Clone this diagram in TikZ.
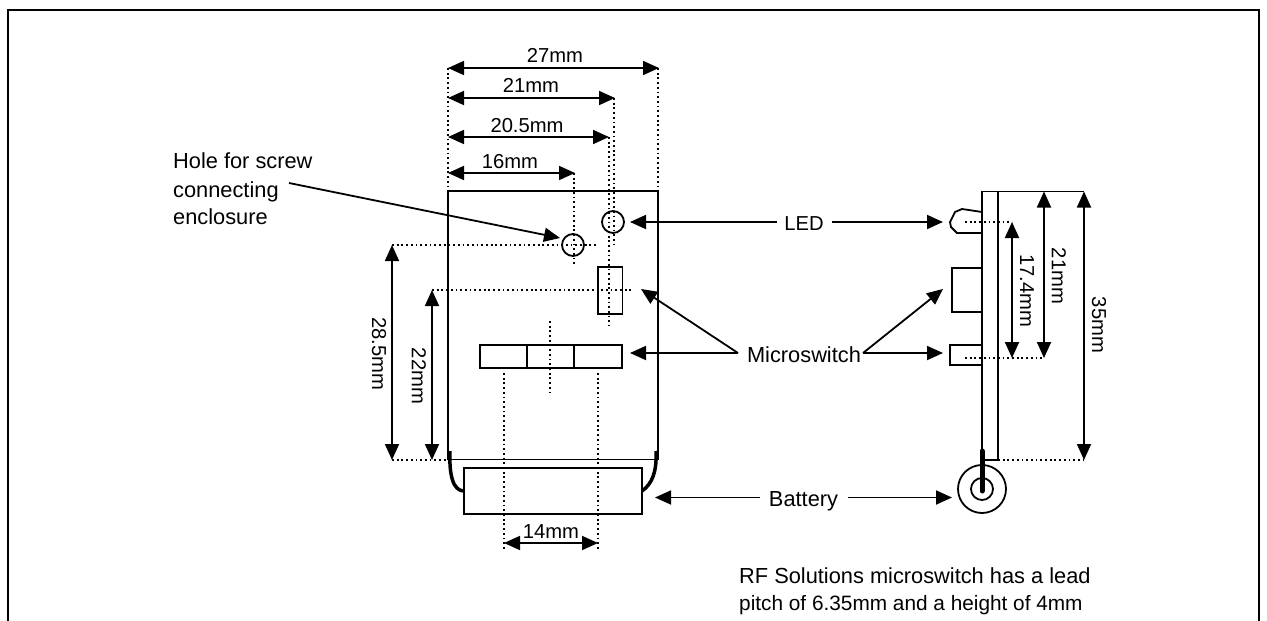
\documentclass[tikz,border=0pt]{standalone}
\usepackage{fontspec}
\setmainfont{Liberation Sans}
\usetikzlibrary{arrows.meta}
\tikzset{
  line/.style={line width=1.8pt},
  dots/.style={line width=1.7pt, dash pattern=on 1.8pt off 2.9pt},
  dim/.style={line width=1.8pt, {Triangle[length=16pt,width=14pt]}-{Triangle[length=16pt,width=14pt]}},
  lead/.style={line width=1.8pt, -{Triangle[length=16pt,width=14pt]}},
  label/.style={inner sep=0pt, font=\fontsize{20.2}{27}\selectfont},
  biglabel/.style={inner sep=0pt, font=\fontsize{21.8}{27}\selectfont},
}
\begin{document}
\begin{tikzpicture}[x=1pt,y=-1pt]
\useasboundingbox (0,0) rectangle (1267,621);
% frame
\draw [line] (8,621) -- (8,10) -- (1259,10) -- (1259,621);
% front view
\draw [line] (448,460) -- (448,191) -- (658,191) -- (658,460);
\draw [line] (450,459.5) -- (656,459.5);
\draw [line] (464,468) rectangle (642,514);
\draw [line] (480,345) rectangle (622,368);
\draw [line] (527,345) -- (527,368);
\draw [line] (574,345) -- (574,368);
\draw [line] (598,267) rectangle (622.5,314);
\draw [line] (613,222) circle (11);
\draw [line] (573,245) circle (11);
\draw [line width=3.5pt] (450,451) .. controls (449,475) and (453,491) .. (464,491);
\draw [line width=3.5pt] (656,451) .. controls (657,472) and (652,484) .. (642,491);
% side view
\draw [line] (982,450) -- (982,191.5) -- (1084,191.5);
\draw [line] (998,191.5) -- (998,460) -- (984,460);
\draw [line] (982,212) -- (962,209) -- (955,212) -- (950,222) -- (951,227) -- (957,233) -- (982,233);
\draw [line] (982,268) -- (952,268) -- (952,312) -- (982,312);
\draw [line] (982,345) -- (950,345) -- (950,365) -- (982,365);
\draw [line] (982,489) circle (24);
\draw [line] (982,489) circle (11);
\draw [line width=5pt, line cap=round] (982,451) -- (982,491);
% projection lines
\draw [dots] (448,68) -- (448,191);
\draw [dots] (658,68) -- (658,191);
\draw [dots] (614,98) -- (614,245);
\draw [dots] (609,137) -- (609,326);
\draw [dots] (574,173) -- (574,266);
\draw [dots] (392,245) -- (598,245);
\draw [dots] (432,290) -- (633,290);
\draw [dots] (392,460) -- (448,460);
\draw [dots] (550,321) -- (550,395);
\draw [dots] (504,373) -- (504,550);
\draw [dots] (598,373) -- (598,550);
\draw [dots] (965,222) -- (1012,222);
\draw [dots] (965,358) -- (1044,358);
\draw [dots] (998,460) -- (1084,460);
% dimensions
\draw [dim] (448,68) -- (659,68);
\node [label, anchor=base] (w27) at (555,62) {27mm};
\draw [dim] (448,98) -- (615,98);
\node [label, anchor=base] (w21) at (531,92) {21mm};
\draw [dim] (448,137) -- (609,137);
\node [label, anchor=base] (w205) at (527,132) {20.5mm};
\draw [dim] (448,173) -- (575,173);
\node [label, anchor=base] (w16) at (510,168) {16mm};
\draw [dim] (504,543) -- (598,543);
\node [label, anchor=base] (w14) at (551,538) {14mm};
\draw [dim] (392,245) -- (392,460);
\node [label, rotate=-90] (h285) at (379,354) {28.5mm};
\draw [dim] (432,290) -- (432,460);
\node [label, rotate=-90] (h22) at (419,376) {22mm};
\draw [dim] (1012,222) -- (1012,358);
\node [label, rotate=-90] (s174) at (1027,291) {17.4mm};
\draw [dim] (1044,191.5) -- (1044,358);
\node [label, rotate=-90] (s21) at (1059,276) {21mm};
\draw [dim] (1084,191.5) -- (1084,460);
\node [label, rotate=-90] (s35) at (1099,325) {35mm};
% labels and leaders
\node [biglabel, anchor=base west] (hole1) at (173,168) {Hole for screw};
\node [biglabel, anchor=base west] (hole2) at (173,197) {connecting};
\node [biglabel, anchor=base west] (hole3) at (173,224) {enclosure};
\node [label, anchor=base] (led) at (804,230) {LED};
\node [biglabel, anchor=base] (micro) at (804,362) {Microswitch};
\node [biglabel, anchor=base] (battery) at (803.5,506) {Battery};
\node [biglabel, anchor=base west] (note1) at (739,583) {RF Solutions microswitch has a lead};
\node [label, anchor=base west, font=\fontsize{20.8}{27}\selectfont] (note2) at (739,610) {pitch of 6.35mm and a height of 4mm};
\coordinate (holestart) at (289,183);
\coordinate (holetip) at (560,238);
\coordinate (ledL) at (777,222);
\coordinate (ledR) at (832,222);
\coordinate (ledfront) at (630,222);
\coordinate (ledside) at (943,222);
\coordinate (microL) at (738,353);
\coordinate (microR) at (863,353);
\coordinate (rowfront) at (630,353);
\coordinate (rowside) at (943,353);
\coordinate (upfront) at (641,289);
\coordinate (upside) at (943,289);
\coordinate (batL) at (760,497.5);
\coordinate (batR) at (848,497.5);
\coordinate (batfront) at (655,497.5);
\coordinate (batside) at (952,497.5);
\draw [lead] (holestart) -- (holetip);
\draw [lead] (ledL) -- (ledfront);
\draw [lead] (ledR) -- (ledside);
\draw [lead] (microL) -- (rowfront);
\draw [lead] (microL) -- (upfront);
\draw [lead] (microR) -- (rowside);
\draw [lead] (microR) -- (upside);
\draw [lead] (batL) -- (batfront);
\draw [lead] (batR) -- (batside);
\end{tikzpicture}
\end{document}
